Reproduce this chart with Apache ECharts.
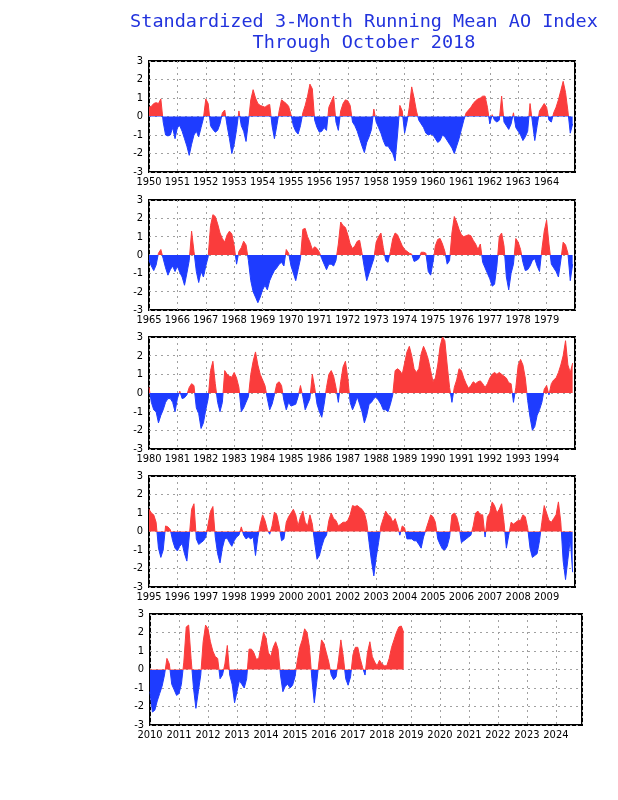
<!DOCTYPE html>
<html><head><meta charset="utf-8">
<script src="https://cdn.jsdelivr.net/npm/echarts@6/dist/echarts.min.js"></script>
<style>html,body{margin:0;padding:0;background:#fff}#c{width:618px;height:800px}</style>
</head><body><div id="c"></div>
<script>
const titleLine1 = 'Standardized 3-Month Running Mean AO Index';
const titleLine2 = 'Through October 2018';
const panelStartYears = [1950, 1965, 1980, 1995, 2010];
const yMin = -3, yMax = 3;

const ao1950_1964 = [
 0.5,0.55,0.7,0.75,0.7,0.95,-0.3,-1.0,-1.05,-1.0,-0.6,-1.2,
 -0.6,-0.5,-0.8,-1.2,-1.6,-2.1,-1.5,-1.0,-0.8,-1.1,-0.6,-0.1,
 0.95,0.7,-0.5,-0.7,-0.85,-0.75,-0.4,0.2,0.35,-0.5,-1.2,-2.0,
 -1.5,-0.7,0.3,-0.5,-0.8,-1.35,-0.3,0.9,1.45,1.0,0.7,0.6,
 0.55,0.5,0.6,0.65,-0.5,-1.2,-0.5,0.3,0.9,0.8,0.7,0.55,
 0.1,-0.5,-0.8,-0.95,-0.5,0.2,0.6,1.1,1.75,1.5,-0.2,-0.6,
 -0.85,-0.8,-0.6,-0.75,0.5,0.8,1.1,-0.3,-0.75,0.3,0.7,0.9,
 0.85,0.6,-0.3,-0.5,-0.8,-1.2,-1.6,-1.95,-1.4,-1.1,-0.7,0.4,
 -0.3,-0.6,-0.9,-1.3,-1.6,-1.6,-1.8,-2.0,-2.4,-1.0,0.6,0.3,
 -0.9,-0.3,0.5,1.6,1.0,0.3,-0.2,-0.4,-0.6,-0.9,-1.0,-0.95,
 -1.0,-1.2,-1.4,-1.3,-1.0,-1.1,-1.3,-1.5,-1.7,-2.0,-1.6,-1.2,
 -0.7,-0.2,0.2,0.35,0.5,0.7,0.85,0.95,1.0,1.1,1.1,0.5,
 -0.4,0.1,-0.2,-0.3,-0.2,1.1,-0.3,-0.5,-0.7,-0.4,0.2,-0.6,
 -0.8,-1.0,-1.3,-1.1,-0.8,0.7,-0.3,-1.3,-0.5,0.3,0.5,0.7,
 0.5,-0.2,-0.3,0.2,0.5,0.9,1.4,1.9,1.3,0.3,-0.9,-0.4
];
const ao1965_1979 = [
 -0.3,-0.6,-0.85,-0.55,0.1,0.3,-0.2,-0.7,-1.1,-0.8,-0.6,-0.9,
 -0.6,-0.95,-1.2,-1.65,-1.0,-0.3,1.3,0.2,-0.9,-1.5,-0.9,-1.2,
 -0.6,-0.1,1.6,2.2,2.1,1.7,1.2,0.9,0.7,1.1,1.3,1.15,
 0.5,-0.5,0.2,0.4,0.75,0.55,-0.3,-1.4,-2.0,-2.3,-2.6,-2.3,
 -1.9,-1.65,-1.9,-1.4,-1.1,-0.85,-0.7,-0.5,-0.4,-0.6,0.3,0.1,
 -0.6,-1.0,-1.4,-0.8,-0.2,1.4,1.45,1.0,0.7,0.3,0.45,0.35,
 0.15,-0.2,-0.5,-0.8,-0.5,-0.5,-0.6,-0.3,0.6,1.8,1.6,1.5,
 1.1,0.6,0.35,0.5,0.75,0.8,0.1,-0.7,-1.4,-1.0,-0.6,-0.2,
 0.7,1.0,1.2,0.4,-0.3,-0.4,0.2,0.9,1.2,1.1,0.8,0.5,
 0.3,0.2,0.1,0.05,-0.35,-0.3,-0.2,0.15,0.15,0.1,-0.9,-1.1,
 -0.4,0.5,0.85,0.9,0.6,0.2,-0.5,-0.3,1.2,2.1,1.8,1.4,
 1.1,1.0,1.05,1.1,1.05,0.8,0.6,0.3,0.6,-0.4,-0.7,-1.0,
 -1.3,-1.7,-1.6,-0.6,1.0,1.2,0.5,-1.2,-1.9,-1.0,-0.5,0.9,
 0.7,0.3,-0.4,-0.85,-0.8,-0.6,-0.3,-0.2,-0.6,-0.9,0.3,1.3,
 1.9,0.6,-0.5,-0.7,-0.9,-1.2,-0.3,0.7,0.55,0.1,-1.4,-0.5
];
const ao1980_1994 = [
 0.3,-0.5,-0.9,-1.0,-1.6,-1.2,-0.9,-0.5,-0.3,-0.3,-0.5,-1.0,
 -0.3,0.1,-0.3,-0.25,-0.1,0.3,0.5,0.4,-0.8,-1.1,-1.9,-1.6,
 -0.9,-0.3,1.2,1.7,0.5,-0.5,-1.0,-0.5,1.2,1.0,0.9,0.85,
 1.1,0.8,0.3,-1.0,-0.8,-0.5,-0.2,1.0,1.7,2.2,1.5,1.0,
 0.7,0.4,-0.3,-0.9,-0.6,-0.1,0.5,0.6,0.4,-0.4,-0.9,-0.5,
 -0.7,-0.65,-0.6,-0.2,0.4,-0.2,-0.9,-0.6,-0.3,1.0,0.3,-0.6,
 -1.0,-1.3,-0.6,0.3,1.0,1.2,0.9,0.3,-0.5,0.6,1.4,1.7,
 0.8,-0.5,-0.9,-0.6,-0.2,-0.6,-1.0,-1.6,-1.2,-0.6,-0.5,-0.3,
 -0.2,-0.4,-0.6,-0.9,-0.9,-1.0,-0.6,-0.1,1.2,1.3,1.2,1.0,
 1.6,2.2,2.5,2.0,1.3,1.1,1.3,2.1,2.5,2.2,1.8,1.2,
 0.6,0.8,1.5,2.5,3.0,2.8,1.5,0.3,-0.5,0.3,0.7,1.3,
 1.2,0.8,0.5,0.25,0.4,0.6,0.5,0.6,0.65,0.5,0.3,0.5,
 0.8,1.0,1.1,1.0,1.1,1.0,0.9,0.8,0.55,0.5,-0.5,0.3,
 1.5,1.8,1.5,0.8,-0.4,-1.3,-2.0,-1.8,-1.2,-0.9,-0.5,0.2,
 0.4,-0.1,0.5,0.7,0.8,1.1,1.5,2.0,2.8,1.5,1.1,1.6
];
const ao1995_2009 = [
 1.2,1.0,0.9,0.5,-0.9,-1.4,-1.0,0.3,0.25,0.1,-0.5,-0.9,
 -1.05,-0.8,-0.65,-1.2,-1.6,-0.3,1.2,1.5,-0.4,-0.7,-0.6,-0.5,
 -0.3,0.4,1.1,1.35,-0.3,-1.2,-1.7,-0.9,-0.4,-0.35,-0.6,-0.8,
 -0.5,-0.3,-0.2,0.25,-0.2,-0.4,-0.3,-0.4,-0.3,-1.3,-0.3,0.4,
 0.9,0.6,0.1,-0.15,0.3,1.05,0.9,0.3,-0.5,-0.4,0.5,0.8,
 1.0,1.2,0.9,0.3,0.8,1.1,0.5,0.3,0.9,0.4,-0.6,-1.5,
 -1.3,-0.8,-0.4,-0.2,0.6,1.0,0.7,0.6,0.3,0.4,0.5,0.5,
 0.6,0.9,1.4,1.35,1.4,1.3,1.2,1.0,0.5,-0.6,-1.6,-2.4,
 -1.4,-0.6,0.3,0.7,1.1,0.9,0.8,0.5,0.7,0.3,-0.2,0.3,
 0.2,-0.4,-0.4,-0.4,-0.5,-0.5,-0.7,-0.9,-0.3,0.1,0.5,0.9,
 0.8,0.5,-0.4,-0.7,-0.95,-1.0,-0.8,-0.3,0.9,1.0,0.8,0.3,
 -0.6,-0.5,-0.4,-0.3,-0.2,0.3,1.0,1.1,0.9,0.9,-0.3,0.8,
 1.0,1.6,1.4,1.0,1.2,1.5,0.5,-0.9,-0.2,0.5,0.4,0.5,
 0.6,0.6,0.9,0.8,0.2,-0.9,-1.4,-1.3,-1.2,-0.5,0.5,1.4,
 1.0,0.6,0.5,0.7,0.9,1.6,0.5,-1.6,-2.6,-1.5,-0.4,-2.2
];
const ao2010_2018 = [
 -1.2,-2.3,-2.2,-1.7,-1.3,-0.9,-0.3,0.6,0.3,-0.8,-1.1,-1.4,
 -1.3,-0.8,0.4,2.3,2.4,0.6,-1.0,-2.1,-1.2,-0.3,1.5,2.4,
 2.2,1.5,1.0,0.7,0.6,-0.5,-0.3,0.3,1.3,-0.3,-0.8,-1.8,
 -1.2,-0.6,-0.8,-1.0,-0.5,1.1,1.1,0.9,0.55,0.6,1.3,2.0,
 1.7,0.9,0.7,1.2,1.5,1.1,-0.3,-1.2,-0.9,-0.8,-1.0,-0.85,
 -0.4,0.5,1.2,1.6,2.2,2.0,1.2,-0.5,-1.8,-0.7,0.5,1.6,
 1.4,0.9,0.4,-0.3,-0.55,-0.4,0.5,1.6,0.7,-0.5,-0.85,-0.4,
 0.8,1.2,1.2,0.6,0.1,-0.3,0.9,1.5,0.7,0.4,0.2,0.5,
 0.3,0.2,0.2,0.6,1.2,1.6,2.0,2.3,2.35,2.0
];
const panelValues = [ao1950_1964, ao1965_1979, ao1980_1994, ao1995_2009, ao2010_2018];

const RED = '#fa3c3c', BLUE = '#1e3cff', TITLE_BLUE = '#2233dd';
const LABEL_FONT = "'Liberation Sans Narrow','DejaVu Sans Condensed','Liberation Sans',sans-serif";
const layouts = [
  {left:149, width:426, top:61,  height:111, span:15},
  {left:149, width:426, top:200, height:110, span:15},
  {left:149, width:426, top:337, height:112, span:15},
  {left:149, width:426, top:476, height:111, span:15},
  {left:150, width:432, top:614, height:111, span:14.9}
];
const gridLine = {show:true, lineStyle:{type:[2,4], color:'#a0a0a0', width:1}};

// red above zero, blue below: a global vertical gradient whose split sits where the y axis maps 0
function splitFill(L) {
  const f = (yMax - 0) / (yMax - yMin);
  return new echarts.graphic.LinearGradient(0, L.top, 0, L.top + L.height, [
    {offset:0, color:RED}, {offset:f, color:RED},
    {offset:f, color:BLUE}, {offset:1, color:BLUE}
  ], true);
}

const grids = [], xAxes = [], yAxes = [], series = [];
layouts.forEach((L, k) => {
  const start = panelStartYears[k];
  grids.push({left:L.left, top:L.top, width:L.width, height:L.height, show:true,
    borderColor:'#000', borderWidth:2, backgroundColor:'transparent', containLabel:false});
  xAxes.push({gridIndex:k, type:'value', min:start, max:start+L.span, interval:1,
    axisLine:{show:false}, axisTick:{show:false}, splitLine:gridLine,
    axisLabel:{color:'#000', fontSize:11, fontFamily:LABEL_FONT, margin:5,
      showMaxLabel:false, formatter:v => String(Math.round(v))}});
  yAxes.push({gridIndex:k, type:'value', min:yMin, max:yMax, interval:1,
    axisLine:{show:false}, axisTick:{show:false}, splitLine:gridLine,
    axisLabel:{color:'#000', fontSize:11, fontFamily:LABEL_FONT, margin:6}});
  const fill = splitFill(L);
  series.push({type:'line', xAxisIndex:k, yAxisIndex:k, showSymbol:false, symbol:'none',
    silent:true, animation:false, z:3,
    lineStyle:{width:1, color:fill},
    itemStyle:{color:RED},
    areaStyle:{opacity:1, origin:0, color:fill},
    data: panelValues[k].map((v, i) => [start + i/12, v])});
});

const chart = echarts.init(document.getElementById('c'), null, {renderer:'canvas'});
chart.setOption({
  animation:false,
  backgroundColor:'#fff',
  title:[
    {text:titleLine1, left:364, top:13, textAlign:'center', padding:0,
     textStyle:{color:TITLE_BLUE, fontSize:18.5, fontWeight:'normal', fontFamily:"'DejaVu Sans Mono',monospace"}},
    {text:titleLine2, left:364, top:34, textAlign:'center', padding:0,
     textStyle:{color:TITLE_BLUE, fontSize:18.5, fontWeight:'normal', fontFamily:"'DejaVu Sans Mono',monospace"}}
  ],
  grid:grids, xAxis:xAxes, yAxis:yAxes, series:series
});
</script></body></html>
